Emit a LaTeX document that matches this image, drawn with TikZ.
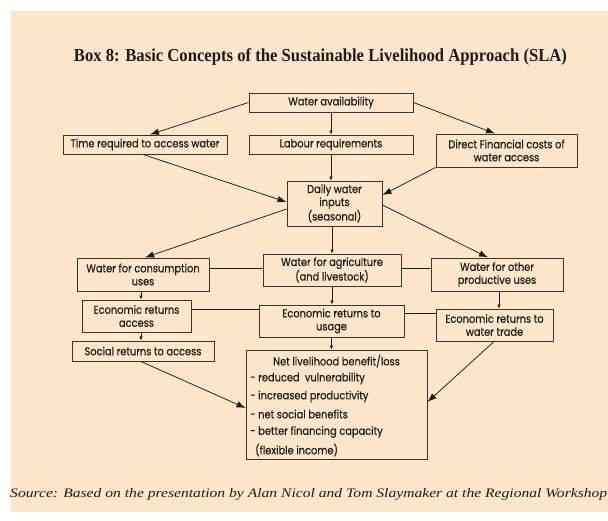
\documentclass[tikz,border=0pt]{standalone}
\usepackage{fontspec}
\setmainfont{Liberation Serif}
\newfontfamily\boxfont[FakeStretch=0.87,FakeBold=0.5]{Poppins}
\usetikzlibrary{arrows.meta}
\definecolor{peach}{RGB}{253,230,201}
\definecolor{boxc}{RGB}{58,52,47}
\definecolor{inkc}{RGB}{30,27,28}
\begin{document}
\begin{tikzpicture}[x=1pt,y=-1pt,
  box/.style={draw=boxc, line width=1pt, fill=peach, inner sep=0pt, align=center, text=inkc, font=\boxfont\fontsize{11.3}{13}\selectfont},
  big/.style={-{Latex[length=9pt,width=6.5pt]}, draw=inkc, line width=0.75pt},
  small/.style={-{Latex[length=4pt,width=3.5pt]}, draw=inkc, line width=0.75pt},
  link/.style={draw=inkc, line width=0.75pt},
  item/.style={anchor=west, inner sep=0pt, text=inkc, font=\boxfont\fontsize{11.3}{13}\selectfont}]
\useasboundingbox (0,0) rectangle (608,520);
\fill[peach] (11,11) rectangle (608,512);
\node[inner sep=0pt, text=inkc] (title) at (320.5,57) {\resizebox{493pt}{12.9pt}{\bfseries Box 8: Basic Concepts of the Sustainable Livelihood Approach (SLA)}};
\node[inner sep=0pt, text=inkc, anchor=west] (src) at (10,494) {\resizebox{597pt}{9pt}{\itshape Source: Based on the presentation by Alan Nicol and Tom Slaymaker at the Regional Workshop}};

\node[box, minimum width=164pt, minimum height=19pt] (wa) at (331,102.5) {Water availability};
\node[box, minimum width=164pt, minimum height=19pt] (time) at (145,144.5) {Time required to access water};
\node[box, minimum width=164pt, minimum height=19pt] (lab) at (331,144.5) {Labour requirements};
\node[box, minimum width=141pt, minimum height=33pt] (dfc) at (506.5,150.5) {Direct Financial costs of\\water access};
\node[box, minimum width=95pt, minimum height=45pt] (daily) at (334.5,203.5) {Daily water\\inputs\\(seasonal)};
\node[box, minimum width=132pt, minimum height=33pt] (cons) at (143,274.5) {Water for consumption\\uses};
\node[box, minimum width=138pt, minimum height=32pt] (agri) at (332,270) {Water for agriculture\\(and livestock)};
\node[box, minimum width=132pt, minimum height=33pt] (other) at (497,274.5) {Water for other\\productive uses};
\node[box, minimum width=109pt, minimum height=32pt] (eacc) at (136.5,316) {Economic returns\\access};
\node[box, minimum width=145pt, minimum height=32pt] (usage) at (331.5,321) {Economic returns to\\usage};
\node[box, minimum width=117pt, minimum height=32pt] (trade) at (494.5,325) {Economic returns to\\water trade};
\node[box, minimum width=142pt, minimum height=20pt] (social) at (143,351) {Social returns to access};
\node[box, minimum width=181pt, minimum height=109pt] (net) at (336.5,404.5) {};
\node[item, anchor=center] (nt) at (336.5,361) {Net livelihood benefit/loss};
\node[item] (n1) at (250,378.5) {- reduced\ \ vulnerability};
\node[item] (n2) at (250,396.5) {- increased productivity};
\node[item] (n3) at (250,414) {- net social benefits};
\node[item] (n4) at (250,432) {- better financing capacity};
\node[item] (n5) at (255,450) {(flexible income)};

% connectors
\draw[big] (wa.west) -- ([xshift=5pt]time.north);
\draw[big] (wa.east) -- ([xshift=-11.5pt]dfc.north);
\draw[small] (wa.south) -- (lab.north);
\draw[big] ([xshift=-2pt]time.south) -- ([yshift=1.5pt]daily.west);
\draw[small] (lab.south) -- (lab.south |- daily.north);
\draw[big] (dfc.south west) -- ([yshift=8.5pt]daily.east);
\draw[big] ([yshift=-5.5pt]daily.west) -- ([xshift=2pt]cons.north);
\draw[small] (daily.south -| agri.north) -- (agri.north);
\draw[big] ([yshift=-1.5pt]daily.east) -- ([xshift=-9pt]other.north);
\draw[link] ([yshift=2pt]agri.west) -- ([yshift=2pt]agri.west -| cons.east);
\draw[link] ([yshift=2pt]agri.east) -- ([yshift=2pt]agri.east -| other.west);
\draw[small] ([xshift=-2pt]cons.south) -- ([xshift=-2pt]cons.south |- eacc.north);
\draw[small] (agri.south) -- (agri.south |- usage.north);
\draw[small] ([xshift=2pt]other.south) -- ([xshift=2pt]other.south |- trade.north);
\draw[link] ([yshift=12pt]usage.west) -- ([yshift=12pt]usage.west -| eacc.east);
\draw[link] ([yshift=8pt]usage.east) -- ([yshift=8pt]usage.east -| trade.west);
\draw[small] ([xshift=4.5pt]eacc.south) -- ([xshift=4.5pt]eacc.south |- social.north);
\draw[small] (usage.south) -- (usage.south |- net.north);
\draw[big] ([xshift=-2pt]social.south) -- ([yshift=-3.5pt]net.west);
\draw[big] ([xshift=-0.5pt]trade.south) -- ([yshift=2.5pt]net.east);
\end{tikzpicture}
\end{document}
